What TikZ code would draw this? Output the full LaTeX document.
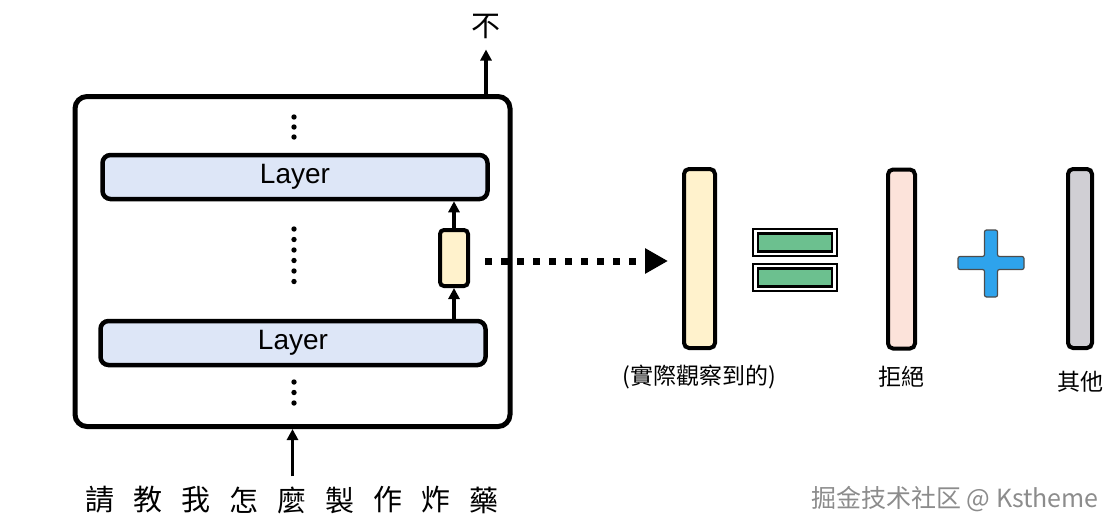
\documentclass[tikz,border=0pt]{standalone}
\usepackage{fontspec}
\setmainfont{Liberation Sans}
\newfontfamily\cjk{Noto Sans CJK TC}
\usetikzlibrary{positioning, arrows.meta}
\definecolor{layerBlue}{HTML}{DDE6F7}
\definecolor{vecYellow}{HTML}{FFF2CC}
\definecolor{vecPink}{HTML}{FCE3DA}
\definecolor{vecGray}{HTML}{D0CFD4}
\definecolor{eqGreen}{HTML}{6CC08F}
\definecolor{plusBlue}{HTML}{2EA3EC}

\begin{document}
\begin{tikzpicture}[
    x=1pt, y=-1pt,
    >={Triangle[length=11pt,width=11pt]},
    every node/.style={inner sep=0pt},
    model/.style={draw, line width=5pt, rounded corners=12pt, minimum width=435pt, minimum height=330pt},
    layer/.style={draw, line width=4.5pt, fill=layerBlue, rounded corners=8pt, minimum width=385pt, minimum height=44pt, font=\fontsize{28}{30}\selectfont},
    vec/.style={draw, line width=4pt, rounded corners=5pt, minimum height=179pt},
    arr/.style={->, line width=3.5pt},
    cjklabel/.style={font=\cjk\fontsize{23}{25}\selectfont},
    tok/.style={font=\cjk\fontsize{29}{31}\selectfont}
]
    \useasboundingbox (0,0) rectangle (1119,531);

    % the model
    \node[model] (box) at (292.5,261.5) {};
    \node[layer] (layerTop) at (295,177) {Layer};
    \node[layer] (layerBot) at (293,343) {Layer};
    \node[vec, fill=vecYellow, rounded corners=4pt, minimum width=28pt, minimum height=56pt] (hid) at (454,258) {};

    \foreach \y in {117,127,137,382,392.5,403} \fill (294,\y) circle[radius=2.7pt];
    \foreach \k in {0,...,5} \fill (294,229+10.5*\k) circle[radius=2.7pt];

    \draw[arr] (layerBot.north -| hid.south) -- (hid.south);
    \draw[arr] (hid.north) -- (hid.north |- layerTop.south);

    % output and input tokens
    \node[tok] (out) at (486,26) {不};
    \draw[arr] (box.north -| out) -- ([yshift=-11pt]out.south);

    \foreach \ch [count=\i] in {請,教,我,怎,麼,製,作,炸,藥}
        \node[tok] (c\i) at (100+48*\i-48,500) {\ch};
    \draw[arr] ([yshift=10pt]c5.north -| box.south) -- (box.south);

    % decomposition of the observed vector
    \node[vec, fill=vecYellow, minimum width=31pt] (obs) at (699.5,258.5) {};
    \node[vec, fill=vecPink, minimum width=27pt] (refuse) at (901.5,259) {};
    \node[vec, fill=vecGray, minimum width=24pt] (other) at (1080,258.5) {};

    \coordinate (tap) at ([xshift=15pt,yshift=-3pt]hid.east);
    \draw[line width=7pt, dash pattern=on 7pt off 9pt, shorten >=14pt, -{Triangle[length=23pt,width=24pt]}]
        (tap) -- (tap -| obs.west);

    \node[cjklabel, below=15pt of obs] (obsLbl) {(實際觀察到的)};
    \node[cjklabel, below=15pt of refuse] (refuseLbl) {拒絕};
    \node[cjklabel, below=21pt of other] (otherLbl) {其他};

    % equals sign
    \foreach \t in {229,264} {
        \draw[line width=2pt, fill=white] (753,\t) rectangle (837,\t+26.5);
        \draw[line width=2.5pt, fill=eqGreen] (758,\t+4.5) rectangle (832,\t+22.5);
    }

    % plus sign
    \draw[line width=1.2pt, draw=black!70, fill=plusBlue, rounded corners=2pt]
        (958,256.5) -- (984.5,256.5) -- (984.5,230) -- (997.5,230) -- (997.5,256.5)
        -- (1024,256.5) -- (1024,269.5) -- (997.5,269.5) -- (997.5,297) -- (984.5,297)
        -- (984.5,269.5) -- (958,269.5) -- cycle;

    \node[font=\cjk\fontsize{25}{27}\selectfont, text=black!45] (mark) at (955,499) {掘金技术社区 @ Kstheme};
\end{tikzpicture}
\end{document}
